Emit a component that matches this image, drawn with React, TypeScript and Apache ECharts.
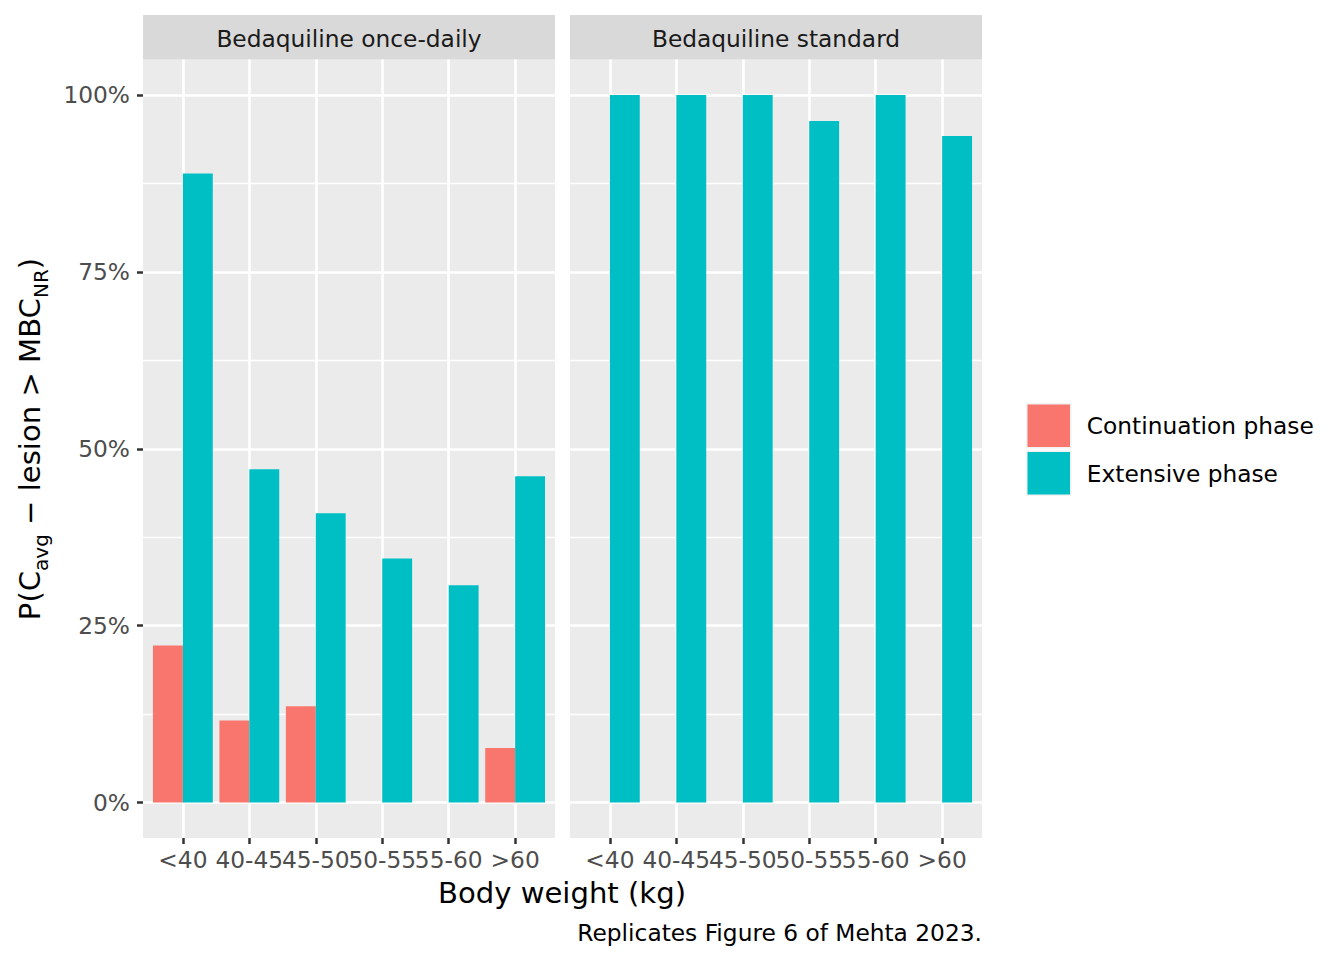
import React, { useEffect, useRef } from 'react';
import * as echarts from 'echarts';

const categories = ['<40', '40-45', '45-50', '50-55', '55-60', '>60'];
const panelTitles = ['Bedaquiline once-daily', 'Bedaquiline standard'];
const seriesNames = ['Continuation phase', 'Extensive phase'];
const onceDailyContinuation = [22.2, 11.6, 13.6, 0, 0, 7.7];
const onceDailyExtensive = [88.9, 47.1, 40.9, 34.5, 30.7, 46.1];
const standardContinuation = [0, 0, 0, 0, 0, 0];
const standardExtensive = [100, 100, 100, 96.3, 100, 94.2];
const yMajorTicks = [0, 25, 50, 75, 100];
const yMinorTicks = [12.5, 37.5, 62.5, 87.5];
const xTickPositions = [1, 2, 3, 4, 5, 6];
const colors = ['#F8766D', '#00BFC4'];

const FONT = 'DejaVu Sans';
const SMALL = 23.3;
const LARGE = 29.1;
const PANEL_BG = '#EBEBEB';
const STRIP_BG = '#D9D9D9';

const panelLeft = [143, 570];
const panelWidth = 412;
const panelTop = 59.5;
const panelHeight = 778.5;

export default function App() {
  const ref = useRef<HTMLDivElement>(null);

  useEffect(() => {
    document.body.style.margin = '0';
    if (!ref.current) return;
    const chart = echarts.init(ref.current, undefined, { renderer: 'svg' });

    const grids = panelLeft.map((l) => ({
      left: l,
      top: panelTop,
      width: panelWidth,
      height: panelHeight,
      show: true,
      backgroundColor: PANEL_BG,
      borderWidth: 0,
    }));

    const xAxes = [0, 1].map((i) => ({
      type: 'value',
      gridIndex: i,
      position: 'bottom',
      min: 0.4,
      max: 6.6,
      axisLine: { show: false, onZero: false },
      axisTick: {
        show: true,
        customValues: xTickPositions,
        length: 6,
        lineStyle: { color: '#333333', width: 2.5 },
      },
      axisLabel: {
        show: true,
        customValues: xTickPositions,
        formatter: (v: number) => categories[Math.round(v) - 1] ?? '',
        color: '#4D4D4D',
        fontFamily: FONT,
        fontSize: SMALL,
        margin: 10,
      },
      splitLine: { show: true, lineStyle: { color: '#FFFFFF', width: 2.6 } },
    }));

    const yMajor = [0, 1].map((i) => ({
      type: 'value',
      gridIndex: i,
      position: 'left',
      min: -5,
      max: 105,
      axisLine: { show: false, onZero: false },
      axisTick: {
        show: i === 0,
        customValues: yMajorTicks,
        length: 6,
        lineStyle: { color: '#333333', width: 2.5 },
      },
      axisLabel: {
        show: i === 0,
        customValues: yMajorTicks,
        formatter: (v: number) => `${v}%`,
        color: '#4D4D4D',
        fontFamily: FONT,
        fontSize: SMALL,
        margin: 13,
      },
      splitLine: { show: true, lineStyle: { color: '#FFFFFF', width: 2.6 } },
      z: 1,
    }));

    const yMinor = [0, 1].map((i) => ({
      type: 'value',
      gridIndex: i,
      position: 'left',
      min: -5,
      max: 105,
      axisLine: { show: false, onZero: false },
      axisTick: { show: false, customValues: yMinorTicks },
      axisLabel: { show: false, customValues: yMinorTicks },
      splitLine: { show: true, lineStyle: { color: '#FFFFFF', width: 1.4 } },
      z: 0,
    }));

    const panelData = [
      [onceDailyContinuation, onceDailyExtensive],
      [standardContinuation, standardExtensive],
    ];

    const series: any[] = [];
    panelData.forEach((pair, p) => {
      pair.forEach((vals, s) => {
        series.push({
          type: 'bar',
          name: seriesNames[s],
          xAxisIndex: p,
          yAxisIndex: p,
          data: vals.map((v, i) => [xTickPositions[i], v]),
          barWidth: '45%',
          barGap: '0%',
          itemStyle: { color: colors[s] },
          z: 5,
        });
      });
    });

    const graphics: any[] = [];
    panelLeft.forEach((l, i) => {
      graphics.push({
        type: 'rect',
        shape: { x: l, y: 15, width: panelWidth, height: panelTop - 15 },
        style: { fill: STRIP_BG },
        silent: true,
      });
      graphics.push({
        type: 'text',
        x: l + panelWidth / 2,
        y: 38,
        style: {
          text: panelTitles[i],
          fill: '#1A1A1A',
          font: `${SMALL}px "${FONT}"`,
          align: 'center',
          verticalAlign: 'middle',
        },
        silent: true,
      });
    });

    graphics.push({
      type: 'text',
      x: 33,
      y: 439,
      rotation: Math.PI / 2,
      style: {
        text: '{n|P(C}{s|avg}{n| − lesion > MBC}{s|NR}{n|)}',
        align: 'center',
        verticalAlign: 'middle',
        fill: '#000000',
        rich: {
          n: { fontFamily: FONT, fontSize: LARGE, lineHeight: 36, fill: '#000000', verticalAlign: 'top' },
          s: { fontFamily: FONT, fontSize: 20, lineHeight: 20, fill: '#000000', verticalAlign: 'bottom' },
        },
      },
      silent: true,
    });

    graphics.push({
      type: 'text',
      x: 562,
      y: 893,
      style: {
        text: 'Body weight (kg)',
        fill: '#000000',
        font: `${LARGE}px "${FONT}"`,
        align: 'center',
        verticalAlign: 'middle',
      },
      silent: true,
    });

    graphics.push({
      type: 'text',
      x: 982,
      y: 932,
      style: {
        text: 'Replicates Figure 6 of Mehta 2023.',
        fill: '#000000',
        font: `${SMALL}px "${FONT}"`,
        align: 'right',
        verticalAlign: 'middle',
      },
      silent: true,
    });

    chart.setOption({
      animation: false,
      backgroundColor: '#FFFFFF',
      textStyle: { fontFamily: FONT },
      grid: grids,
      xAxis: xAxes,
      yAxis: [...yMajor, ...yMinor],
      series: series,
      legend: {
        data: seriesNames,
        orient: 'vertical',
        left: 1021,
        top: 398,
        itemWidth: 44,
        itemHeight: 44,
        itemGap: 2,
        icon: 'rect',
        itemStyle: { borderColor: '#F2F2F2', borderWidth: 1.5 },
        textStyle: { fontFamily: FONT, fontSize: SMALL, color: '#000000', padding: [0, 0, 0, 11] },
        selectedMode: false,
      },
      graphic: graphics,
    });

    return () => chart.dispose();
  }, []);

  return <div ref={ref} style={{ width: 1344, height: 960 }} />;
}
